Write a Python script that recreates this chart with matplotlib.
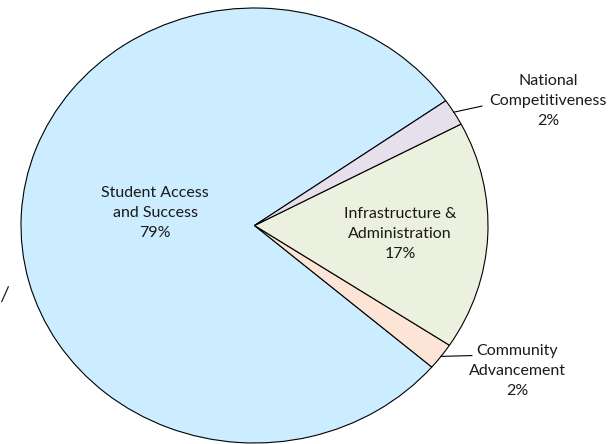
import numpy as np
import matplotlib
matplotlib.use("Agg")
import matplotlib.pyplot as plt
from matplotlib.lines import Line2D

# Budget share by strategic area
categories = ["Student Access\nand Success", "Community\nAdvancement",
              "Infrastructure &\nAdministration", "National\nCompetitiveness"]
shares = [79, 2, 17, 2]
colors = ["#CCECFF", "#FCE4D6", "#EBF1DE", "#E6E0EC"]

W, H, DPI = 614, 444, 100
fig = plt.figure(figsize=(W / DPI, H / DPI), dpi=DPI)
ax = fig.add_axes([0, 0, 1, 1])

wedges, _ = ax.pie(shares, colors=colors, startangle=35, counterclock=True,
                   wedgeprops=dict(edgecolor="black", linewidth=0.8))

# pie is slightly wider than tall
ax.set_aspect("auto")
cx, cy, rx, ry = 254.5, 225.5, 233.5, 217.5
ax.set_xlim(-cx / rx, (W - cx) / rx)
ax.set_ylim(-(H - cy) / ry, cy / ry)
ax.axis("off")

font = dict(family=["Lato", "DejaVu Sans"], size=11.5, color="#1a1a1a",
            ha="center", va="center", linespacing=1.55)

# label placement: (label centre, leader end or None)
label_pos = [((-0.426, 0.057), None),
             ((1.124, -0.669), (0.931, -0.598)),
             ((0.623, -0.039), None),
             ((1.257, 0.572), (0.974, 0.549))]

for w, name, v, (pos, lead) in zip(wedges, categories, shares, label_pos):
    ax.text(pos[0], pos[1], f"{name}\n{v}%", **font)
    if lead is not None:
        mid = np.deg2rad((w.theta1 + w.theta2) / 2)
        ax.plot([np.cos(mid), lead[0]], [np.sin(mid), lead[1]],
                color="black", linewidth=0.8)

# small stray stroke at the left edge
fig.add_artist(Line2D([1.8 / W, 8.3 / W], [1 - 301.5 / H, 1 - 286.8 / H],
                      color="#222222", linewidth=0.9))

fig.savefig("out.png", dpi=DPI)
